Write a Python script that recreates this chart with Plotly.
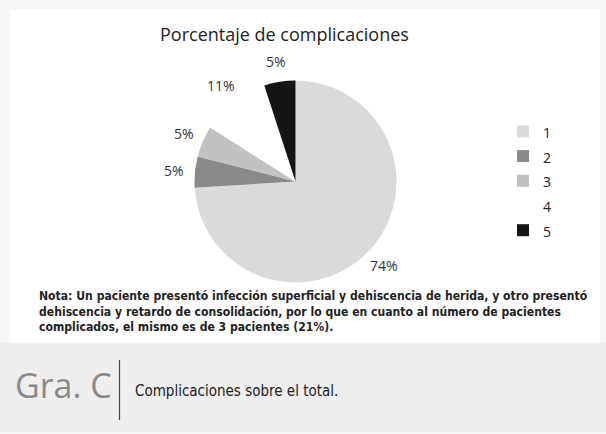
import math
import plotly.graph_objects as go

W, H = 606, 434

categories = ["1", "2", "3", "4", "5"]
percentages = [74, 5, 5, 11, 5]
slice_colors = ["#dadada", "#8a8a8a", "#c2c2c2", "#ffffff", "#151515"]

title_text = "Porcentaje de complicaciones"
note_lines = [
    "Nota: Un paciente presentó infección superficial y dehiscencia de herida, y otro presentó",
    "dehiscencia y retardo de consolidación, por lo que en cuanto al número de pacientes",
    "complicados, el mismo es de 3 pacientes (21%).",
]
fig_label = "Gra. C"
caption = "Complicaciones sobre el total."

# pie geometry (pixels)
CX, CY, R = 295.5, 181.5, 101
LABEL_GAP = 21


def px(x):
    return x / W


def py(y):
    return 1 - y / H


legend_labels = [f"<span style='font-size:14px'>{c}</span>" for c in categories]

fig = go.Figure()
fig.add_trace(go.Pie(
    labels=legend_labels,
    values=percentages,
    sort=False,
    direction="clockwise",
    rotation=0,
    marker=dict(colors=slice_colors, line=dict(width=0)),
    textinfo="none",
    hoverinfo="percent",
    domain=dict(x=[px(CX - R), px(CX + R)], y=[py(CY + R), py(CY - R)]),
))

# percentage labels placed just outside each slice, at the slice's mid-angle
annotations = []
total = sum(percentages)
cum = 0.0
for v in percentages:
    mid = (cum + v / 2) / total * 2 * math.pi  # clockwise from 12 o'clock
    cum += v
    lx = CX + (R + LABEL_GAP) * math.sin(mid)
    ly = CY - (R + LABEL_GAP) * math.cos(mid)
    annotations.append(dict(
        text=f"{v}%", x=px(lx), y=py(ly), xref="paper", yref="paper", showarrow=False,
        xanchor="center", yanchor="middle",
        font=dict(family="Open Sans", size=14, color="#333333")))

shapes = [
    dict(type="rect", xref="paper", yref="paper", x0=px(10), x1=px(600), y0=py(343), y1=py(10),
         fillcolor="#ffffff", line=dict(width=0), layer="below"),
    dict(type="rect", xref="paper", yref="paper", x0=px(0), x1=px(606), y0=py(432), y1=py(343),
         fillcolor="#eeeeee", line=dict(width=0), layer="below"),
    dict(type="line", xref="paper", yref="paper", x0=px(119.5), x1=px(119.5), y0=py(420), y1=py(360),
         line=dict(color="#444444", width=1.2)),
]

annotations += [
    dict(text=title_text, x=px(284.5), y=py(34), xref="paper", yref="paper", showarrow=False,
         xanchor="center", yanchor="middle", font=dict(family="Open Sans", size=18, color="#222222")),
    dict(text=fig_label, x=px(13), y=py(385), xref="paper", yref="paper", showarrow=False,
         xanchor="left", yanchor="middle", font=dict(family="Open Sans", size=34, color="#8a8a8a")),
    dict(text=caption, x=px(133), y=py(391), xref="paper", yref="paper", showarrow=False,
         xanchor="left", yanchor="middle", font=dict(family="DejaVu Sans Condensed", size=15, color="#222222")),
    dict(text="<br>".join(note_lines), x=px(37), y=py(311), xref="paper", yref="paper", showarrow=False,
         xanchor="left", yanchor="middle", align="left",
         font=dict(family="DejaVu Sans Condensed", size=12.1, weight="bold", color="#222222")),
]

fig.update_layout(
    width=W, height=H,
    margin=dict(l=0, r=0, t=0, b=0),
    paper_bgcolor="#f6f6f6",
    plot_bgcolor="#f6f6f6",
    showlegend=True,
    legend=dict(x=px(503), y=py(114), xanchor="left", yanchor="top",
                font=dict(family="Open Sans", size=16.7, color="#222222"),
                bgcolor="rgba(0,0,0,0)", tracegroupgap=0),
    shapes=shapes,
    annotations=annotations,
)

fig.write_html("out.html", config={"displayModeBar": False},
               post_script="document.body.style.margin='0px';")
